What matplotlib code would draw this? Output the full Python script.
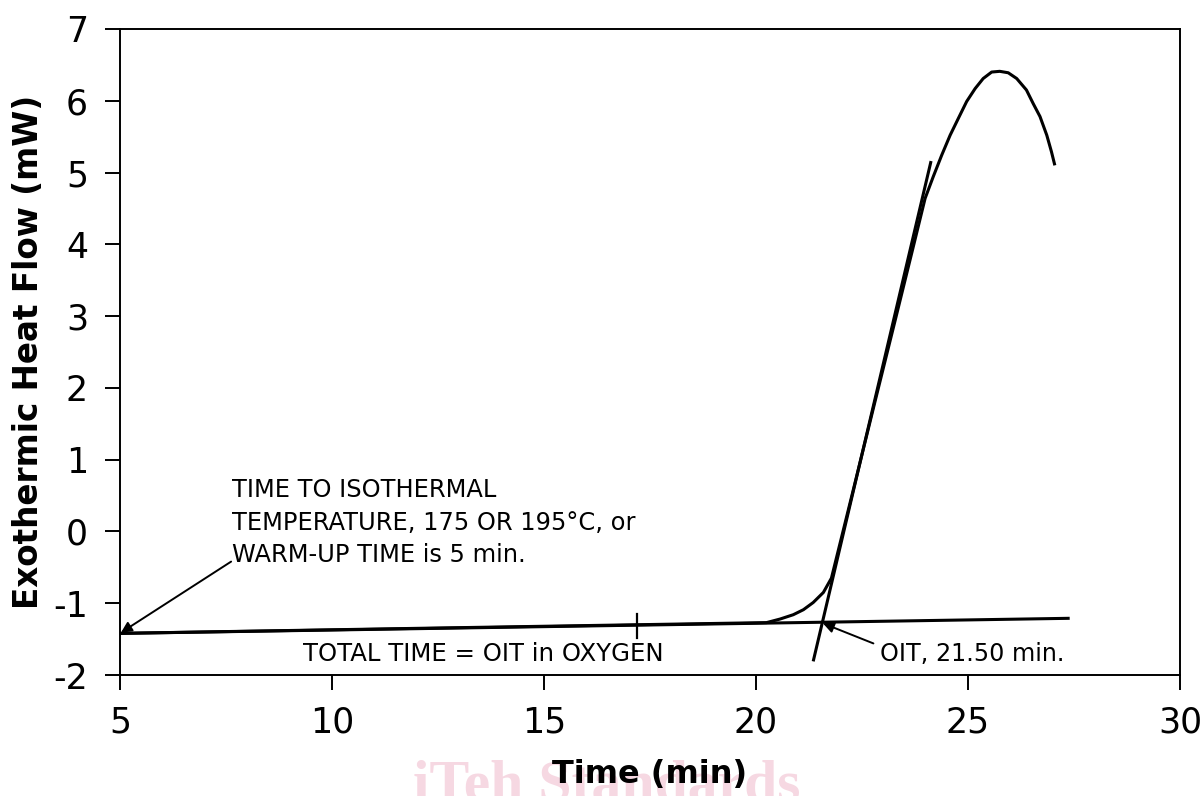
import matplotlib.pyplot as plt

# DSC trace (exothermic heat flow vs time)
time_min = [5.0, 12.0, 20.25, 20.57, 20.88, 21.12, 21.35, 21.59, 21.78, 22.3,
            22.8, 23.3, 23.7, 23.99, 24.18, 24.38, 24.58, 24.77, 24.97, 25.17,
            25.36, 25.56, 25.75, 25.95, 26.15, 26.38, 26.54, 26.70, 26.86,
            26.97, 27.05]
heat_flow = [-1.42, -1.35, -1.27, -1.22, -1.16, -1.09, -0.99, -0.85, -0.65, 0.59,
             1.79, 2.98, 3.94, 4.64, 4.94, 5.24, 5.52, 5.75, 5.99, 6.17,
             6.31, 6.40, 6.41, 6.39, 6.31, 6.15, 5.96, 5.78, 5.52,
             5.29, 5.10]

# extrapolated baseline and tangent at the onset
baseline_x = [5.0, 27.4]
baseline_y = [-1.42, -1.21]
tangent_x = [21.35, 24.13]
tangent_y = [-1.81, 5.16]

# small mark on the baseline
mark_x = 17.2
mark_y = -1.32

oit = 21.5
oit_y = -1.28

FONT = 'DejaVu Sans'
plt.rcParams['axes.unicode_minus'] = False

fig = plt.figure(figsize=(12.03, 7.96), dpi=100)
ax = fig.add_axes([0.0998, 0.152, 0.881, 0.8116])

line_kw = dict(color='black', linewidth=2.2, solid_capstyle='butt', solid_joinstyle='round')
ax.plot(baseline_x, baseline_y, **line_kw)
ax.plot(tangent_x, tangent_y, **line_kw)
ax.plot(time_min, heat_flow, **line_kw)
ax.plot([mark_x, mark_x], [mark_y - 0.17, mark_y + 0.17], color='black', linewidth=1.6)

ax.set_xlim(5, 30)
ax.set_ylim(-2, 7)
ax.set_xticks([5, 10, 15, 20, 25, 30])
ax.set_yticks(range(-2, 8))

ax.tick_params(direction='out', length=11, width=1.4, labelsize=25)
ax.tick_params(axis='x', pad=11)
ax.tick_params(axis='y', pad=12)
for lbl in ax.get_xticklabels() + ax.get_yticklabels():
    lbl.set_family(FONT)
for sp in ax.spines.values():
    sp.set_linewidth(1.4)

ax.set_xlabel('Time (min)', fontsize=23, fontweight='bold', family=FONT)
ax.set_ylabel('Exothermic Heat Flow (mW)', fontsize=23.5, fontweight='bold', family=FONT)
ax.xaxis.set_label_coords(0.5, -0.13)
ax.yaxis.set_label_coords(-0.071, 0.5)

# annotations
ax.text(7.64, -0.43, 'TIME TO ISOTHERMAL\nTEMPERATURE, 175 OR 195\u00b0C, or\nWARM-UP TIME is 5 min.',
        fontsize=17.4, family=FONT, ha='left', va='baseline', linespacing=1.45)
ax.annotate('', xy=(5.02, -1.41), xytext=(7.62, -0.42),
            arrowprops=dict(arrowstyle='-|>', color='black', lw=1.4,
                            mutation_scale=16, shrinkA=0, shrinkB=0))
ax.text(9.32, -1.80, 'TOTAL TIME = OIT in OXYGEN', fontsize=17.6, family=FONT,
        ha='left', va='baseline')
ax.text(22.92, -1.80, 'OIT, 21.50 min.', fontsize=17.2, family=FONT,
        ha='left', va='baseline')
ax.annotate('', xy=(oit + 0.08, oit_y), xytext=(22.77, -1.56),
            arrowprops=dict(arrowstyle='-|>', color='black', lw=1.4,
                            mutation_scale=16, shrinkA=0, shrinkB=0))

# faint watermark behind the x label
fig.text(0.504, -0.006, 'iTeh Standards', fontsize=43, fontweight='bold',
         family='Liberation Serif', color='#f6d8e2', ha='center', va='baseline', zorder=-1)

fig.savefig('out.png', dpi=100)
